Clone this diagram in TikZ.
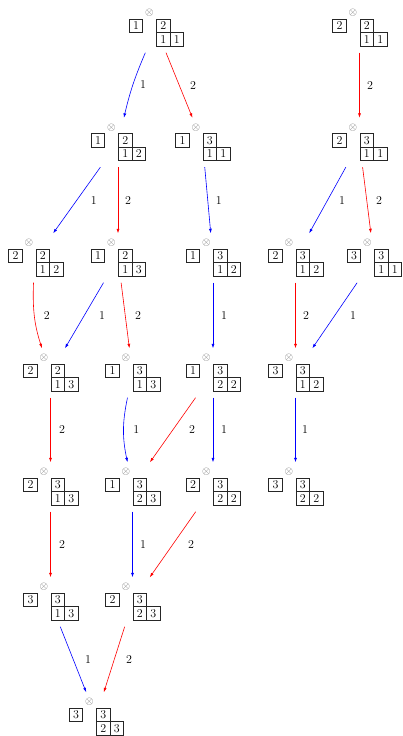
\documentclass[tikz,border=0pt]{standalone}
\usetikzlibrary{arrows.meta}
\tikzset{
  cell/.style={draw=black!85, line width=0.7pt, minimum size=13.5pt, inner sep=0pt, font=\fontsize{12}{14}\selectfont},
  otim/.style={text=black!60, inner sep=0pt, font=\fontsize{10.5}{12}\selectfont},
  statebox/.style={rectangle, minimum width=62pt, minimum height=49pt, inner sep=0pt},
  conn/.style={line width=0.6pt, -{Latex[length=4.5pt,width=3pt]}},
  bl/.style={conn, blue},
  rd/.style={conn, red},
  lbl/.style={font=\fontsize{12}{14}\selectfont, inner sep=0pt, text=black},
}
\newcommand\mystate[7]{%
  \node[statebox] (#1) at ({#2+6.5},{#3+15}) {};
  \node[otim] (#1o) at (#2,#3) {$\otimes$};
  \node[cell] (#1s) at ({#2-13.5},{#3+13}) {#4};
  \node[cell] (#1t) at ({#2+13.75},{#3+13}) {#5};
  \node[cell] (#1b) at ({#2+13.75},{#3+26.5}) {#6};
  \node[cell] (#1c) at ({#2+27.25},{#3+26.5}) {#7};
}
\begin{document}
\begin{tikzpicture}[x=1pt,y=-1pt]
\useasboundingbox (0,0) rectangle (402,736);
% states
\mystate{A0}{149.5}{13}{1}{2}{1}{1}
\mystate{R0}{353}{13}{2}{2}{1}{1}
\mystate{B1}{111.5}{127.5}{1}{2}{1}{2}
\mystate{B2}{196}{127.5}{1}{3}{1}{1}
\mystate{R1}{353}{127.5}{2}{3}{1}{1}
\mystate{C1}{29}{243}{2}{2}{1}{2}
\mystate{C2}{111.5}{243}{1}{2}{1}{3}
\mystate{C3}{206.5}{243}{1}{3}{1}{2}
\mystate{R2a}{289}{243}{2}{3}{1}{2}
\mystate{R2b}{367.5}{243}{3}{3}{1}{1}
\mystate{D1}{44}{358}{2}{2}{1}{3}
\mystate{D2}{126}{358}{1}{3}{1}{3}
\mystate{D3}{206.5}{358}{1}{3}{2}{2}
\mystate{R3}{289}{358}{3}{3}{1}{2}
\mystate{E1}{44}{472}{2}{3}{1}{3}
\mystate{E2}{126}{472}{1}{3}{2}{3}
\mystate{E3}{206.5}{472}{2}{3}{2}{2}
\mystate{R4}{289}{472}{3}{3}{2}{2}
\mystate{F1}{44}{587}{3}{3}{1}{3}
\mystate{F2}{126}{587}{2}{3}{2}{3}
\mystate{G}{89.5}{702}{3}{3}{2}{3}
% connectors
\draw[bl] (A0) to[bend right=5] node[lbl, xshift=10pt]{1} (B1);
\draw[rd] (A0) -- node[lbl, xshift=13.75pt]{2} (B2);
\draw[rd] (R0) -- node[lbl, xshift=10.5pt]{2} (R1);
\draw[bl] (B1) -- node[lbl, xshift=17pt]{1} (C1);
\draw[rd] (B1) -- node[lbl, xshift=10pt]{2} (C2);
\draw[bl] (B2) -- node[lbl, xshift=11pt]{1} (C3);
\draw[bl] (R1) -- node[lbl, xshift=14.5pt]{1} (R2a);
\draw[rd] (R1) -- node[lbl, xshift=12.25pt]{2} (R2b);
\draw[rd] ([xshift=-2pt]C1.south) to[out=-92, in=108] node[lbl, xshift=12.5pt]{2} ([xshift=-8.5pt]D1.north);
\draw[bl] (C2) -- node[lbl, xshift=17.75pt]{1} (D1);
\draw[rd] (C2) -- node[lbl, xshift=12.75pt]{2} (D2);
\draw[bl] (C3) -- node[lbl, xshift=11pt]{1} (D3);
\draw[rd] (R2a) -- node[lbl, xshift=10.5pt]{2} (R3);
\draw[bl] (R2b) -- node[lbl, xshift=18.25pt]{1} (R3);
\draw[rd] (D1) -- node[lbl, xshift=11.5pt]{2} (E1);
\draw[bl] ([xshift=-5pt]D2.south) to[bend right=12] node[lbl, xshift=12.7pt]{1} ([xshift=-5pt]E2.north);
\draw[rd] (D3) -- node[lbl, xshift=19.25pt]{2} (E2);
\draw[bl] (D3) -- node[lbl, xshift=11pt]{1} (E3);
\draw[bl] (R3) -- node[lbl, xshift=9.5pt]{1} (R4);
\draw[rd] (E1) -- node[lbl, xshift=11.5pt]{2} (F1);
\draw[bl] (E2) -- node[lbl, xshift=10.5pt]{1} (F2);
\draw[rd] (E3) -- node[lbl, xshift=18.25pt]{2} (F2);
\draw[bl] (F1) -- node[lbl, xshift=14.75pt]{1} (G);
\draw[rd] (F2) -- node[lbl, xshift=14.75pt]{2} (G);
\end{tikzpicture}
\end{document}
